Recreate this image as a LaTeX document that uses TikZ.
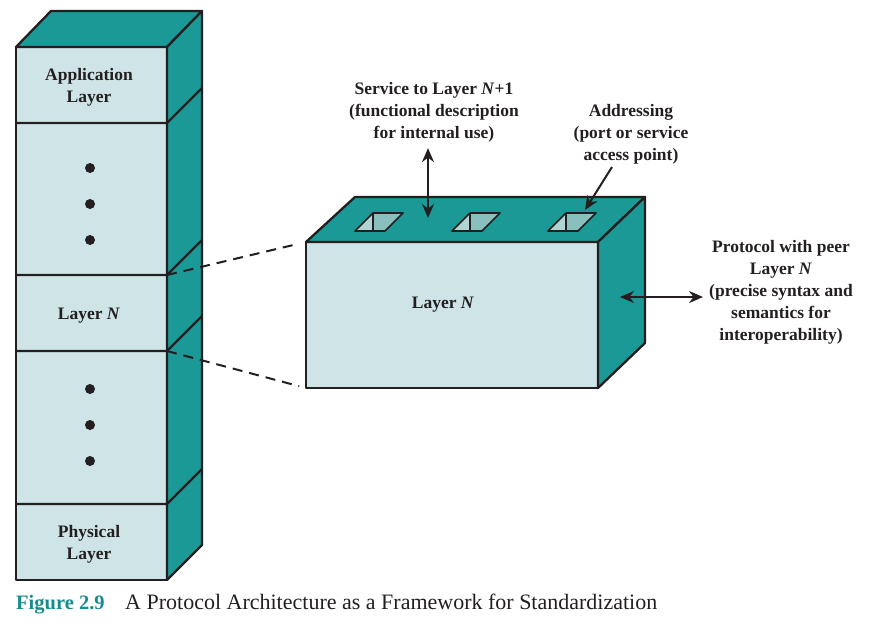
\documentclass[tikz,border=0pt]{standalone}
\usepackage{fontspec}
\setmainfont{Liberation Serif}
\usetikzlibrary{arrows.meta, positioning, calc}
\definecolor{tealside}{RGB}{27,153,150}
\definecolor{tealface}{RGB}{206,228,230}
\definecolor{portlite}{RGB}{176,212,210}
\definecolor{portdark}{RGB}{137,192,190}
\definecolor{capteal}{RGB}{22,140,140}
\definecolor{ink}{RGB}{35,31,32}

\begin{document}
\begin{tikzpicture}[x=1pt, y=-1pt,
  edge/.style={line width=2.3pt, draw=ink, line join=round},
  lbl/.style={font=\fontsize{17.5}{22}\selectfont\bfseries, align=center, text=ink, inner sep=0pt},
  link/.style={line width=2pt, draw=ink, -{Stealth[length=14pt, width=12pt]}},
  dlink/.style={line width=2pt, draw=ink, {Stealth[length=14pt, width=12pt]}-{Stealth[length=14pt, width=12pt]}},
  zoomline/.style={line width=2pt, draw=ink, dash pattern=on 10pt off 7pt}
]
\useasboundingbox (0,0) rectangle (872,625);

% stack of layers
\draw[edge, fill=tealface] (16,47) rectangle (167,580);
\draw[edge, fill=tealside] (16,47) -- (51,11) -- (202,11) -- (167,47) -- cycle;
\draw[edge, fill=tealside] (167,47) -- (202,11) -- (202,545) -- (167,580) -- cycle;
\foreach \y in {123,275,351,504}
  \draw[edge] (16,\y) -- (167,\y) -- (202,\y-35);

\node[lbl] (app) at (89,87) {Application\\Layer};
\node[lbl] (lyrN) at (89,316) {Layer \textit{N}};
\node[lbl] (phy) at (89,544) {Physical\\Layer};
\foreach \y in {168,204,240,389,425,461}
  \fill[ink] (90,\y) circle (5pt);

% layer N blown up
\draw[edge, fill=tealface] (306,242) rectangle (598,388);
\draw[edge, fill=tealside] (306,242) -- (355,197) -- (645,197) -- (598,242) -- cycle;
\draw[edge, fill=tealside] (598,242) -- (645,197) -- (645,343) -- (598,388) -- cycle;
\foreach \x in {355,452,548} {
  \fill[portlite] (\x,231) -- (\x+18,213) -- (\x+18,231) -- cycle;
  \fill[portdark] (\x+18,213) -- (\x+48,213) -- (\x+30,231) -- (\x+18,231) -- cycle;
  \draw[edge, line width=1.7pt] (\x,231) -- (\x+18,213) -- (\x+48,213) -- (\x+30,231) -- cycle
    (\x+18,213) -- (\x+18,231);
}
\node[lbl] (boxlbl) at (443,305) {Layer \textit{N}};

\coordinate (stkTop) at (167,275);
\coordinate (stkBot) at (167,351);
\coordinate (boxTop) at (306,242);
\coordinate (boxBot) at (306,388);
\draw[zoomline, shorten >=7pt] (stkTop) -- (boxTop);
\draw[zoomline, shorten >=7pt] (stkBot) -- (boxBot);

% notes
\node[lbl] (svc) at (434,112) {Service to Layer \textit{N}+1\\(functional description\\for internal use)};
\node[lbl] (addr) at (631,134) {Addressing\\(port or service\\access point)};
\node[lbl] (peer) at (781,292) {Protocol with peer\\Layer \textit{N}\\(precise syntax and\\semantics for\\interoperability)};

\coordinate (svcTip) at (428,218);
\coordinate (addrEnd) at (612,167);
\coordinate (addrTip) at (585,210);
\coordinate (peerTip) at (620,297);
\draw[dlink, shorten <=6pt] (svc.south -| svcTip) -- (svcTip);
\draw[link] (addrEnd) -- (addrTip);
\draw[dlink, shorten >=6pt] (peerTip) -- (peer.west |- peerTip);

% caption
\node[font=\fontsize{20.5}{24}\selectfont\bfseries, text=capteal, anchor=base west, inner sep=0pt] (fig) at (16,609) {Figure 2.9};
\node[font=\fontsize{22}{24}\selectfont, text=ink, anchor=base west, inner sep=0pt] (cap) at (125,609) {A Protocol Architecture as a Framework for Standardization};
\end{tikzpicture}
\end{document}
